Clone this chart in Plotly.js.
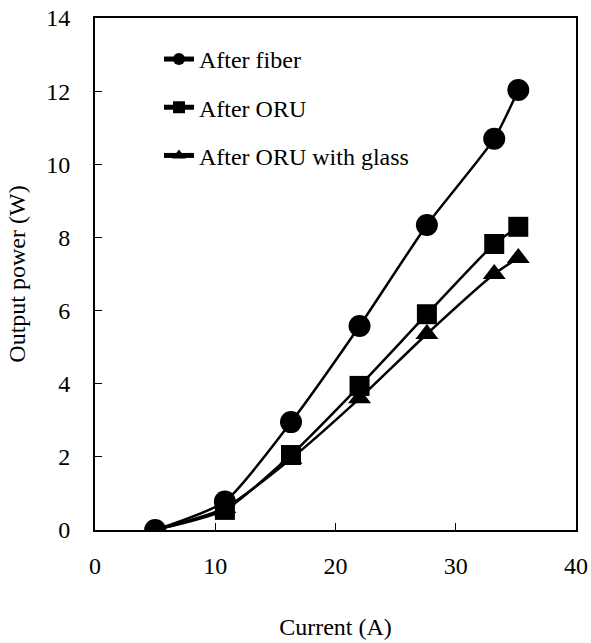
<!DOCTYPE html>
<html>
<head>
<meta charset="utf-8">
<script src="https://cdn.plot.ly/plotly-3.0.1.min.js"></script>
<style>html,body{margin:0;padding:0;background:#fff}#chart{width:591px;height:643px}</style>
</head>
<body>
<div id="chart"></div>
<script>
const seriesNames = ["After fiber", "After ORU", "After ORU with glass"];
const fiberX = [5, 10.8, 16.3, 22.0, 27.6, 33.2, 35.2];
const fiberY = [0, 0.78, 2.95, 5.58, 8.34, 10.7, 12.03];
const oruX = [5, 10.8, 16.3, 22.0, 27.6, 33.2, 35.2];
const oruY = [0, 0.55, 2.05, 3.94, 5.9, 7.82, 8.29];
const glassX = [5, 10.8, 16.3, 22.0, 27.6, 33.2, 35.2];
const glassY = [0, 0.6, 1.95, 3.6, 5.36, 7.0, 7.44];
const xTicks = [0, 10, 20, 30, 40];
const yTicks = [0, 2, 4, 6, 8, 10, 12, 14];

const symbols = ["circle", "square", "triangle-up"];
const sizes = [22, 20, 20];
const xs = [fiberX, oruX, glassX];
const ys = [fiberY, oruY, glassY];

const traces = seriesNames.map((n, i) => ({
  x: xs[i], y: ys[i], name: n, type: "scatter", mode: "lines+markers",
  legendgroup: "g" + i, legendrank: i + 1,
  line: {color: "#000", width: 2.5, shape: "spline", smoothing: 0.6},
  marker: {symbol: symbols[i], size: xs[i].map((_, k) => (i > 0 && k === 0) ? 0 : sizes[i]),
           color: "#000", opacity: 1, line: {width: 0}}
})).reverse();

const F = () => ({family: "Liberation Serif", size: 24, color: "#000"});
const layout = {
  width: 591, height: 643,
  margin: {l: 95, r: 15, t: 18, b: 113},
  paper_bgcolor: "#fff", plot_bgcolor: "#fff",
  font: F(),
  showlegend: true,
  legend: {x: 0.133, y: 0.963, xanchor: "left", yanchor: "top", bgcolor: "rgba(0,0,0,0)",
           font: F(), traceorder: "grouped", tracegroupgap: 14, itemsizing: "constant"},
  xaxis: {range: [0, 40], tickvals: xTicks, ticktext: xTicks.map(String), ticks: "inside", ticklen: 7,
          tickwidth: 1, tickcolor: "#000", showline: true, linecolor: "#000", linewidth: 2, mirror: true,
          showgrid: false, zeroline: false, ticklabelstandoff: 13, tickfont: F(),
          title: {text: "Current (A)", font: F(), standoff: 40}},
  yaxis: {range: [0, 14], tickvals: yTicks, ticktext: yTicks.map(String), ticks: "inside", ticklen: 7,
          tickwidth: 1, tickcolor: "#000", showline: true, linecolor: "#000", linewidth: 2, mirror: true,
          showgrid: false, zeroline: false, ticklabelstandoff: 18, tickfont: F(),
          title: {text: "Output power (W)", font: F(), standoff: 14}}
};
Plotly.newPlot("chart", traces, layout, {displayModeBar: false, staticPlot: true});
</script>
</body>
</html>
